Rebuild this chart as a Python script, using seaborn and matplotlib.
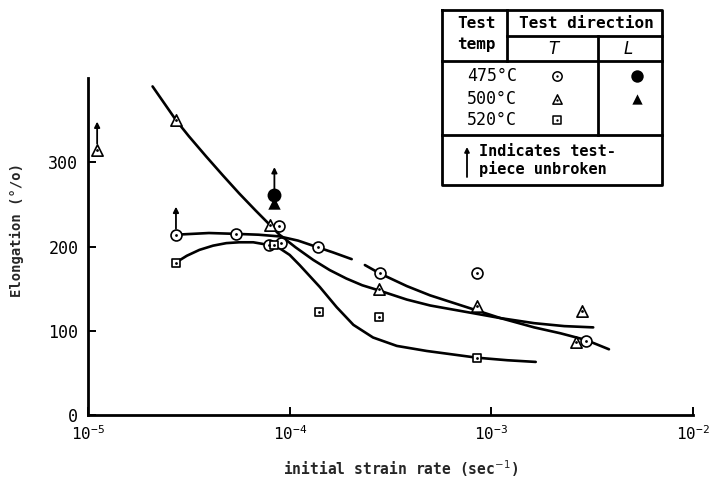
import matplotlib
matplotlib.use("Agg")
import matplotlib.pyplot as plt
import matplotlib.transforms as mtransforms
from matplotlib.ticker import NullLocator, FixedLocator
import seaborn as sns

# ---------------- data ----------------
# T direction test points
t475_x = [2.73e-5, 5.4e-5, 7.9e-5, 8.9e-5, 9.1e-5, 1.38e-4, 2.8e-4, 8.5e-4, 2.95e-3]
t475_y = [214, 215, 202, 224, 204, 199, 168, 168, 88]
t500_x = [1.11e-5, 2.73e-5, 7.95e-5, 2.76e-4, 8.5e-4, 2.64e-3, 2.83e-3]
t500_y = [315, 350, 226, 149, 129, 87, 124]
t520_x = [2.73e-5, 8.4e-5, 1.39e-4, 2.78e-4, 8.5e-4]
t520_y = [181, 202, 122, 116, 68]
# L direction test points
l475_x = [8.4e-5]
l475_y = [261]
l500_x = [8.4e-5]
l500_y = [252]
# test pieces unbroken (arrow markers)
unbroken_x = [1.11e-5, 2.73e-5, 8.4e-5]
unbroken_y = [315, 214, 261]

# hand-drawn trend curves
c500_x = [2.09e-5, 2.73e-5, 3.16e-5, 3.85e-5, 4.68e-5, 5.62e-5, 6.76e-5, 7.95e-5,
          8.9e-5, 1.07e-4, 1.31e-4, 1.58e-4, 1.91e-4, 2.29e-4, 2.76e-4, 3.81e-4,
          4.97e-4, 8.5e-4, 1.11e-3, 1.63e-3, 2.3e-3, 3.2e-3]
c500_y = [390, 350, 331, 307, 284, 263, 243, 226,
          214, 199, 184, 172, 162, 154, 148, 137,
          130, 120, 115, 109, 105.5, 104]
c475a_x = [2.73e-5, 3.98e-5, 5.4e-5, 7e-5, 8.9e-5, 1.1e-4, 1.38e-4, 1.64e-4, 2.03e-4]
c475a_y = [214, 216, 215, 214, 212, 207, 199, 193, 185]
c475b_x = [2.36e-4, 2.8e-4, 3.81e-4, 4.97e-4, 8.5e-4, 1.11e-3, 1.63e-3, 2.2e-3,
           2.95e-3, 3.83e-3]
c475b_y = [178, 168, 153, 142, 124, 115, 104, 97, 89, 78]
c520_x = [2.73e-5, 3.09e-5, 3.57e-5, 4.17e-5, 4.85e-5, 5.62e-5, 6.6e-5, 7.8e-5,
          8.9e-5, 1e-4, 1.12e-4, 1.41e-4, 1.71e-4, 2.07e-4, 2.59e-4, 3.4e-4,
          4.78e-4, 8.5e-4, 1.2e-3, 1.66e-3]
c520_y = [181, 189, 196, 201, 204, 205, 205, 202,
          198, 190, 178, 152, 128, 107, 92, 82,
          76, 68, 65, 63]

y_ticks = [0, 100, 200, 300]
x_ticks = [1e-5, 1e-4, 1e-3, 1e-2]
x_tick_labels = [r"$\mathdefault{10^{-5}}$", r"$\mathdefault{10^{-4}}$",
                 r"$\mathdefault{10^{-3}}$", r"$\mathdefault{10^{-2}}$"]

# ---------------- style ----------------
sns.set_theme(style="ticks")
plt.rcParams['font.family'] = ['DejaVu Sans Mono', 'DejaVu Sans']
plt.rcParams['mathtext.fontset'] = 'dejavusans'

fig = plt.figure(figsize=(7.13, 4.80), dpi=100)
fig.patch.set_facecolor('white')
ax = fig.add_axes([88/713, 65/480, 605/713, 337/480])
ax.set_facecolor('white')
ax.set_xscale('log')
ax.set_xlim(1e-5, 1e-2)
ax.set_ylim(0, 400)

# curves
for cx, cy in [(c500_x, c500_y), (c475a_x, c475a_y), (c475b_x, c475b_y), (c520_x, c520_y)]:
    sns.lineplot(x=cx, y=cy, ax=ax, color='black', linewidth=1.9, sort=False,
                 estimator=None, zorder=2)

# open markers (T direction)
mk = dict(color='white', edgecolor='black', linewidth=1.2, ax=ax, zorder=3, legend=False)
sns.scatterplot(x=t475_x, y=t475_y, marker='o', s=62, **mk)
sns.scatterplot(x=t500_x, y=t500_y, marker='^', s=66, **mk)
sns.scatterplot(x=t520_x, y=t520_y, marker='s', s=40, **mk)
# centre dots
sns.scatterplot(x=t475_x + t500_x + t520_x, y=t475_y + t500_y + t520_y, marker='o',
                s=4, color='black', linewidth=0, ax=ax, zorder=4, legend=False)
# filled markers (L direction)
sns.scatterplot(x=l500_x, y=l500_y, marker='^', s=80, color='black', linewidth=0,
                ax=ax, zorder=3, legend=False)
sns.scatterplot(x=l475_x, y=l475_y, marker='o', s=100, color='black', linewidth=0,
                ax=ax, zorder=3, legend=False)

# unbroken arrows
tip = ax.transData + mtransforms.ScaledTranslation(0, 28/100, fig.dpi_scale_trans)
base = ax.transData + mtransforms.ScaledTranslation(0, 6/100, fig.dpi_scale_trans)
for ux, uy in zip(unbroken_x, unbroken_y):
    ax.annotate('', xy=(ux, uy), xycoords=tip, xytext=(ux, uy), textcoords=base,
                arrowprops=dict(arrowstyle='-|>', color='black', lw=1.3,
                                mutation_scale=8, shrinkA=0, shrinkB=0), zorder=5)

# axes
sns.despine(ax=ax)
for s in ['left', 'bottom']:
    ax.spines[s].set_linewidth(2.0)
    ax.spines[s].set_color('black')
ax.xaxis.set_minor_locator(NullLocator())
ax.xaxis.set_major_locator(FixedLocator(x_ticks))
ax.set_xticks(x_ticks, x_tick_labels)
ax.set_yticks(y_ticks)
ax.tick_params(axis='both', direction='in', length=6, width=1.4, colors='black',
               labelsize=12)
ax.tick_params(axis='x', pad=7, labelsize=11.5)
ax.tick_params(axis='y', pad=7)
ax.set_xlabel('initial strain rate (sec$^{-1}$)', fontsize=10.5, fontweight='bold')
ax.set_ylabel('Elongation (°/o)', fontsize=10, fontweight='bold')
ax.xaxis.set_label_coords(0.516, -0.128)
ax.yaxis.set_label_coords(-0.105, 0.55)

# ---------------- legend table ----------------
tab = fig.add_axes([0, 0, 1, 1])
tab.set_xlim(0, 713)
tab.set_ylim(480, 0)
tab.axis('off')
lk = dict(color='black', lw=2, solid_capstyle='projecting')
tab.plot([442, 662, 662, 442, 442], [9.5, 9.5, 185, 185, 9.5], **lk)
tab.plot([507, 507], [9.5, 60.7], **lk)
tab.plot([507, 662], [36, 36], **lk)
tab.plot([598.3, 598.3], [36, 135], **lk)
tab.plot([442, 662], [60.7, 60.7], **lk)
tab.plot([442, 662], [135, 135], **lk)
tf = dict(ha='center', va='center', fontsize=11.5, fontweight='bold', color='black')
tab.text(476.5, 23, 'Test', **tf)
tab.text(476.5, 44, 'temp', **tf)
tab.text(586, 23, 'Test direction', **tf)
tab.text(553, 49, 'T', ha='center', va='center', fontsize=12, style='italic',
         color='black', family='DejaVu Sans')
tab.text(628, 49, 'L', ha='center', va='center', fontsize=12, style='italic',
         color='black', family='DejaVu Sans')
for yy, lab in zip([76, 99, 120], ['475°C', '500°C', '520°C']):
    tab.text(492, yy, lab, ha='center', va='center', fontsize=12, color='black')
tab.scatter([556.7], [76], marker='o', s=45, facecolor='white', edgecolor='black', lw=1.1)
tab.scatter([556.7], [99], marker='^', s=45, facecolor='white', edgecolor='black', lw=1.1)
tab.scatter([556.7], [120], marker='s', s=30, facecolor='white', edgecolor='black', lw=1.1)
tab.scatter([556.7] * 3, [76, 99.5, 120], marker='o', s=3, color='black', lw=0)
tab.scatter([636.7], [76], marker='o', s=80, color='black', lw=0)
tab.scatter([636.7], [99], marker='^', s=55, color='black', lw=0)
tab.annotate('', xy=(467, 147), xytext=(467, 177),
             arrowprops=dict(arrowstyle='-|>', color='black', lw=1.3,
                             mutation_scale=7, shrinkA=0, shrinkB=0))
tab.text(479, 152, 'Indicates test-', ha='left', va='center', fontsize=11,
         fontweight='bold', color='black')
tab.text(479, 169, 'piece unbroken', ha='left', va='center', fontsize=11,
         fontweight='bold', color='black')

fig.savefig('out.png', dpi=100, facecolor='white')
